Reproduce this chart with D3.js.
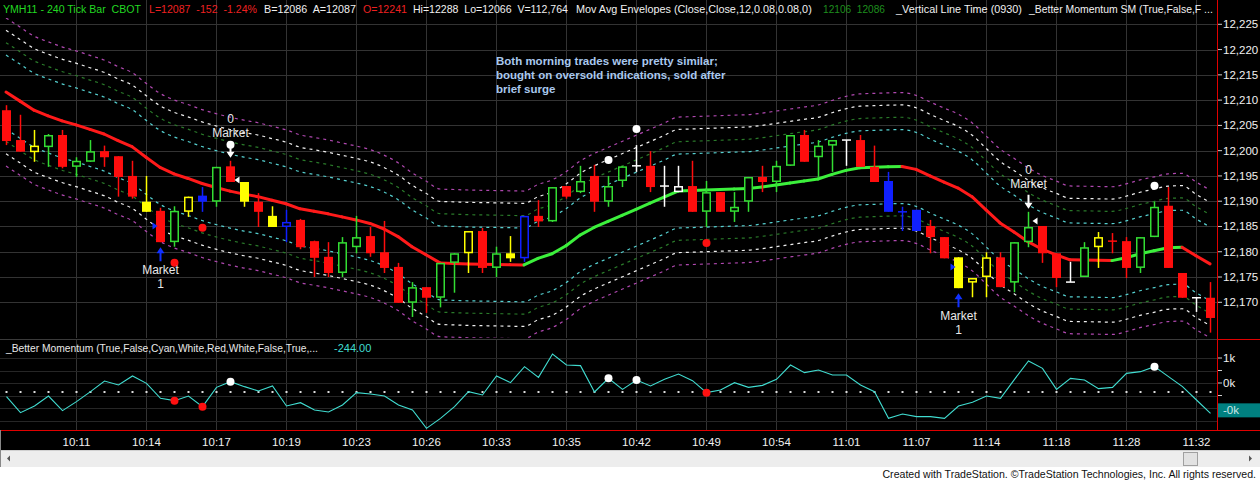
<!DOCTYPE html>
<html><head><meta charset="utf-8">
<script src="https://cdn.jsdelivr.net/npm/d3@7"></script>
<style>
body{margin:0;background:#fff;}
svg{display:block;font-family:Arial,"Liberation Sans",sans-serif;}
text{white-space:pre;}
</style></head>
<body><svg id="c" width="1260" height="482"></svg>
<script>
// ---------------- DATA ----------------
const opens=[12208.0,12202.1,12199.7,12200.7,12203.1,12196.8,12197.8,12199.9,12198.9,12195.0,
12189.9,12188.1,12181.9,12187.9,12191.1,12189.9,12196.9,12193.8,12189.9,12187.1,
12184.9,12186.3,12182.1,12179.0,12175.8,12180.9,12183.1,12179.9,12177.0,12169.9,
12173.0,12170.9,12177.8,12179.7,12184.1,12176.8,12179.7,12178.7,12187.1,12186.0,
12193.0,12191.8,12195.0,12189.9,12194.0,12197.0,12197.0,12193.0,12191.8,12193.0,
12187.9,12191.8,12187.9,12189.9,12194.8,12193.8,12197.0,12203.1,12198.7,12201.0,
12202.1,12202.1,12196.8,12194.0,12187.9,12188.3,12185.1,12182.9,12178.9,12173.9,
12175.0,12178.9,12173.9,12181.9,12185.1,12179.7,12174.0,12175.0,12180.9,12182.1,
12182.1,12176.8,12182.9,12189.1,12175.8,12170.9,12170.9];
const highs=[12209.0,12207.1,12204.1,12203.3,12204.1,12198.7,12202.1,12201.0,12198.9,12198.0,
12195.0,12188.7,12189.0,12190.9,12192.8,12196.8,12198.0,12193.8,12191.6,12189.0,
12188.3,12186.5,12182.2,12181.9,12182.9,12187.1,12184.9,12186.1,12177.8,12174.0,
12173.0,12177.8,12179.7,12184.1,12184.7,12181.0,12183.1,12187.1,12190.2,12192.8,
12193.0,12197.0,12197.2,12195.0,12196.9,12201.1,12199.9,12197.0,12197.0,12198.0,
12194.0,12191.8,12191.8,12194.8,12197.0,12198.0,12203.1,12204.1,12202.1,12202.1,
12202.1,12203.1,12201.0,12195.8,12188.9,12188.3,12186.3,12182.9,12178.9,12174.8,
12179.9,12179.9,12181.9,12187.9,12185.1,12179.7,12178.0,12181.9,12183.9,12183.7,
12182.9,12182.9,12189.9,12192.8,12175.8,12170.9,12174.0];
const lows=[12201.1,12199.8,12197.8,12196.8,12196.5,12194.8,12197.8,12196.8,12190.9,12190.5,
12187.9,12181.9,12181.0,12186.9,12187.9,12188.9,12193.8,12188.9,12184.9,12184.9,
12181.9,12180.5,12175.0,12175.0,12175.0,12179.7,12179.0,12175.8,12169.9,12167.1,
12167.9,12169.0,12171.9,12175.8,12175.8,12175.0,12178.0,12178.0,12184.9,12185.9,
12190.5,12191.6,12187.9,12188.9,12192.8,12195.8,12191.8,12188.9,12191.8,12187.9,
12184.9,12187.9,12185.9,12187.9,12191.8,12191.8,12197.0,12197.8,12194.8,12195.8,
12197.0,12196.8,12193.8,12187.9,12184.1,12184.1,12179.7,12178.7,12172.8,12171.0,
12171.0,12173.0,12172.0,12180.9,12177.8,12173.0,12174.0,12175.0,12176.8,12179.7,
12174.8,12175.8,12182.9,12176.8,12170.9,12168.1,12164.0];
const closes=[12201.9,12199.8,12201.0,12203.1,12196.8,12198.0,12199.9,12198.7,12194.8,12190.9,
12187.9,12181.9,12188.1,12190.9,12189.9,12196.8,12193.8,12189.9,12187.9,12184.9,
12185.9,12180.9,12178.8,12175.8,12181.9,12182.9,12179.7,12176.8,12169.9,12173.0,
12170.9,12177.8,12179.7,12184.1,12176.8,12179.7,12178.7,12187.1,12186.0,12192.8,
12190.9,12194.0,12189.9,12193.0,12196.9,12197.0,12192.8,12193.0,12193.0,12187.9,
12191.8,12187.9,12188.9,12194.8,12193.8,12197.0,12203.1,12197.8,12201.0,12202.1,
12202.1,12196.8,12193.8,12187.9,12187.9,12184.1,12182.9,12178.7,12172.8,12174.8,
12178.9,12173.0,12181.9,12184.9,12179.7,12174.8,12174.0,12180.9,12182.9,12182.1,
12176.8,12182.9,12188.9,12176.8,12170.9,12170.9,12166.9];
// paint-bar state from the Better Momentum SM study (R=down, G=up, Y=caution, B=reversal, W=neutral)
const barStates=("RRYGRGGRRR"+"YRGYBGRYRY"+"BRRRGGRRRG"+"RGGYRGYBRG"+"RGRGGWRWWR"+
                 "GRGGRGGRGG"+"WRRBBBRRYY"+"YRGGRRWGYR"+"RGGRRWR").split("");
const movAvg=[12211.6,12209.8,12208.0,12206.9,12205.9,12205.1,12204.2,12203.3,12202.0,12200.8,
12198.7,12196.7,12195.4,12194.5,12193.5,12192.7,12192.0,12191.4,12190.9,12190.2,
12189.5,12188.5,12188.0,12187.5,12186.9,12186.3,12185.6,12184.5,12183.0,12181.0,
12179.4,12177.8,12177.7,12177.6,12177.55,12177.5,12177.45,12177.4,12178.7,12179.6,
12181.2,12183.3,12184.8,12186.0,12187.2,12188.4,12189.6,12190.8,12192.0,12192.1,
12192.2,12192.3,12192.4,12192.5,12192.8,12193.2,12193.6,12194.0,12194.4,12195.3,
12196.1,12196.6,12196.7,12196.8,12196.85,12196.3,12195.0,12193.8,12192.6,12190.9,
12188.3,12185.7,12183.9,12182.0,12180.5,12179.4,12178.4,12178.35,12178.3,12178.25,
12178.8,12179.6,12180.2,12180.8,12180.9,12179.2,12177.6];
const envelopePcts=[0.0006,0.0008,0.0010,0.0012];
const momentum=[227,-93,40,240,-53,127,327,540,460,640,
493,193,147,240,27,413,527,427,340,440,
40,107,-40,-80,60,307,280,240,60,-40,
-407,-207,27,327,260,640,507,827,613,1080,
860,847,320,593,373,560,440,573,680,547,
307,360,507,413,453,573,860,707,760,660,
660,460,327,-207,-120,-173,-173,-207,40,113,
240,193,573,940,793,373,593,560,387,413,
693,727,827,627,427,160,-107];
const momRefLevel=320;
const sigHighBars=[16,43,45,82];
const sigLowBars=[12,14,50];
const entryBars=[11,68], entryPrices=[12185.1,12177.0];
const exitBars=[16,73], exitPrices=[12194.2,12186.1];
const priceTicks=[12225,12220,12215,12210,12205,12200,12195,12190,12185,12180,12175,12170];
const momTicks=[1000,500], momTickLabels=["1k","0k"], momMinorTicks=[1000,750,500,250];
const timeBars=[5,10,15,20,25,30,35,40,45,50,55,60,65,70,75,80,85];
const timeLabels=["10:11","10:14","10:17","10:19","10:23","10:26","10:33","10:35","10:42",
"10:49","10:54","11:01","11:07","11:14","11:18","11:28","11:32"];
const lastMomText="-244.00", lastMomAxis="-0k";

// ---------------- LAYOUT ----------------
const W=1260,H=482, plotR=1217, pTop=18, pBot=338, mTop=340, mBot=430;
const svg=d3.select("#c");
svg.append("rect").attr("width",W).attr("height",H).attr("fill","#fff");
svg.append("rect").attr("width",W).attr("height",450).attr("fill","#000");

// fit a text's natural width to a target width by scaling its font size (capped)
function fitText(sel,target,base,cap){
  sel.attr("font-size",base);
  const w=sel.node().getComputedTextLength();
  let f=w>0?base*target/w:base;
  if(cap) f=Math.min(f,cap);
  sel.attr("font-size",f.toFixed(2));
  return sel;
}

const x=d3.scaleLinear().domain([0,86]).range([6,6+14*86]);
const y=d3.scaleLinear().domain([12225,12170]).range([24.3,302.3]);
const ym=d3.scaleLinear().domain([1000,500]).range([358,383]);
const stateColor=d3.scaleOrdinal().domain(["R","G","Y","B","W"])
  .range(["#ff0d0d","#33dd33","#ffff00","#1020ff","#ffffff"]);
const bandColors=["#55d0d0","#2a7a2a","#f0f0f0","#b048b0"];
const idx=d3.range(opens.length);

const defs=svg.append("defs");
defs.append("clipPath").attr("id","cp").append("rect").attr("x",0).attr("y",pTop).attr("width",plotR).attr("height",pBot-pTop);
defs.append("clipPath").attr("id","cm").append("rect").attr("x",0).attr("y",mTop).attr("width",plotR).attr("height",mBot-mTop);

// grid
const grid=svg.append("g").attr("stroke","#333").attr("stroke-width",1);
priceTicks.forEach(v=>grid.append("line").attr("x1",0).attr("x2",plotR).attr("y1",Math.round(y(v))+0.5).attr("y2",Math.round(y(v))+0.5));
timeBars.forEach(b=>{
  grid.append("line").attr("x1",x(b)+0.5).attr("x2",x(b)+0.5).attr("y1",0).attr("y2",pBot);
  grid.append("line").attr("x1",x(b)+0.5).attr("x2",x(b)+0.5).attr("y1",mTop).attr("y2",mBot);
});
momMinorTicks.concat([0,-250]).forEach(v=>grid.append("line").attr("stroke","#262626").attr("x1",0).attr("x2",plotR).attr("y1",Math.round(ym(v))+0.5).attr("y2",Math.round(ym(v))+0.5));

// ---------------- PRICE PANEL ----------------
const gp=svg.append("g").attr("clip-path","url(#cp)");
envelopePcts.forEach((p,j)=>{
  [1,-1].forEach(s=>{
    const ln=d3.line().x(i=>x(i)).y(i=>y(movAvg[i]*(1+s*p))).curve(d3.curveMonotoneX);
    gp.append("path").attr("d",ln(idx)).attr("fill","none").attr("stroke",bandColors[j])
      .attr("stroke-width",1.2).attr("stroke-dasharray","3,4");
  });
});
// moving average, coloured by slope
for(let i=1;i<movAvg.length;i++){
  gp.append("line").attr("x1",x(i-1)).attr("y1",y(movAvg[i-1])).attr("x2",x(i)).attr("y2",y(movAvg[i]))
    .attr("stroke",movAvg[i]>movAvg[i-1]?"#3cf03c":"#ff1a1a").attr("stroke-width",3).attr("stroke-linecap","round");
}
// candles
idx.forEach(i=>{
  const c=stateColor(barStates[i]), cx=x(i)+0.5;
  const g=gp.append("g");
  g.append("line").attr("x1",cx).attr("x2",cx).attr("y1",y(highs[i])).attr("y2",y(lows[i])).attr("stroke",c).attr("stroke-width",1.5);
  const o=opens[i], cl=closes[i];
  if(o===cl){
    g.append("line").attr("x1",cx-4.5).attr("x2",cx+4.5).attr("y1",y(o)).attr("y2",y(o)).attr("stroke",c).attr("stroke-width",1.5);
  } else if(cl<o){
    g.append("rect").attr("x",cx-4.5).attr("width",9).attr("y",y(o)).attr("height",Math.max(1.5,y(cl)-y(o))).attr("fill",c);
  } else {
    g.append("rect").attr("x",cx-3.75).attr("width",7.5).attr("y",y(cl)+0.75).attr("height",Math.max(1,y(o)-y(cl)-1.5))
      .attr("fill","#000").attr("stroke",c).attr("stroke-width",1.5);
  }
});
// signal dots
sigHighBars.forEach(b=>gp.append("circle").attr("cx",x(b)+0.5).attr("cy",y(highs[b])-16).attr("r",4).attr("fill","#fff"));
sigLowBars.forEach(b=>gp.append("circle").attr("cx",x(b)+0.5).attr("cy",y(lows[b])+16).attr("r",4).attr("fill","#ff1010"));
// trade markers
const lbl=(t,xx,yy)=>gp.append("text").attr("x",xx).attr("y",yy).attr("text-anchor","middle").attr("font-size",12).attr("fill","#e8e8e8").text(t);
entryBars.forEach((b,j)=>{
  const cx=x(b)+0.5, yl=y(lows[b]), yp=y(entryPrices[j]);
  gp.append("path").attr("d",`M${cx-8},${yp-3.5}L${cx-3},${yp}L${cx-8},${yp+3.5}Z`).attr("fill","#1030ff");
  gp.append("path").attr("d",`M${cx},${yl+5}L${cx-4},${yl+11}L${cx-1},${yl+11}L${cx-1},${yl+19}L${cx+1},${yl+19}L${cx+1},${yl+11}L${cx+4},${yl+11}Z`).attr("fill","#1030ff");
  lbl("Market",cx,yl+32); lbl("1",cx,yl+46);
});
exitBars.forEach((b,j)=>{
  const cx=x(b)+0.5, yh=y(highs[b]), yp=y(exitPrices[j]);
  gp.append("path").attr("d",`M${cx+9},${yp-3.5}L${cx+4},${yp}L${cx+9},${yp+3.5}Z`).attr("fill","#fff");
  gp.append("path").attr("d",`M${cx},${yh-3}L${cx-4},${yh-9}L${cx-1},${yh-9}L${cx-1},${yh-17}L${cx+1},${yh-17}L${cx+1},${yh-9}L${cx+4},${yh-9}Z`).attr("fill","#fff");
  lbl("Market",cx,yh-24); lbl("0",cx,yh-38);
});
// annotation
["Both morning trades were pretty similar;","bought on oversold indications, sold after","brief surge"].forEach((t,j)=>
  svg.append("text").attr("x",496).attr("y",65+14*j).attr("font-size",11.5).attr("font-weight","bold").attr("fill","#a9c8ee").text(t));

// ---------------- MOMENTUM PANEL ----------------
const gm=svg.append("g").attr("clip-path","url(#cm)");
idx.forEach(i=>gm.append("rect").attr("x",x(i)-0.5).attr("y",Math.round(ym(momRefLevel))-1).attr("width",2).attr("height",2).attr("fill","#ddd"));
gm.append("path").attr("d",d3.line().x(i=>x(i)+0.5).y(i=>ym(momentum[i]))(idx)).attr("fill","none").attr("stroke","#40dcd0").attr("stroke-width",1.1);
sigHighBars.forEach(b=>gm.append("circle").attr("cx",x(b)+0.5).attr("cy",ym(momentum[b])).attr("r",4).attr("fill","#fff"));
sigLowBars.forEach(b=>gm.append("circle").attr("cx",x(b)+0.5).attr("cy",ym(momentum[b])).attr("r",4).attr("fill","#ff1010"));
fitText(svg.append("text").attr("x",6).attr("y",352).attr("fill","#e8e8e8")
  .text("_Better Momentum (True,False,Cyan,White,Red,White,False,True,..."),312,11);
svg.append("text").attr("x",334).attr("y",352).attr("font-size",11).attr("fill","#40dcd0").text(lastMomText);

// ---------------- AXES ----------------
svg.append("line").attr("x1",0).attr("x2",plotR).attr("y1",339.5).attr("y2",339.5).attr("stroke","#3a3a3a");
const ax=svg.append("g").attr("font-size",11.5).attr("fill","#f0f0f0");
priceTicks.forEach(v=>{
  const yy=y(v);
  ax.append("line").attr("x1",plotR).attr("x2",plotR+5).attr("y1",yy).attr("y2",yy).attr("stroke","#ccc");
  ax.append("text").attr("x",1223).attr("y",yy+4).text(d3.format(",")(v));
});
momMinorTicks.forEach(v=>ax.append("line").attr("x1",plotR).attr("x2",plotR+5).attr("y1",ym(v)).attr("y2",ym(v)).attr("stroke","#ccc"));
momTicks.forEach((v,j)=>ax.append("text").attr("x",1223).attr("y",ym(v)+4).text(momTickLabels[j]));
const lastY=ym(momentum[momentum.length-1]);
svg.append("rect").attr("x",1218).attr("y",lastY-10).attr("width",42).attr("height",14).attr("fill","#008080");
svg.append("text").attr("x",1223).attr("y",lastY+1).attr("font-size",11.5).attr("fill","#cfe6e6").text(lastMomAxis);
// borders
svg.append("line").attr("x1",plotR+0.5).attr("x2",plotR+0.5).attr("y1",0).attr("y2",mBot).attr("stroke","#e00000");
svg.append("line").attr("x1",plotR).attr("x2",W).attr("y1",339.5).attr("y2",339.5).attr("stroke","#e00000");
svg.append("line").attr("x1",0).attr("x2",W).attr("y1",mBot+0.5).attr("y2",mBot+0.5).attr("stroke","#e00000");
// time axis
timeBars.forEach((b,j)=>ax.append("text").attr("x",x(b)+0.5).attr("y",446).attr("text-anchor","middle").text(timeLabels[j]));

// header
const hdr=[["YMH11 - 240 Tick Bar  CBOT",3,"#22d822",138],["L=12087  -152  -1.24%",149,"#ee2020",108],
["B=12086  A=12087",264,"#f0f0f0",92],["O=12241",363,"#ee2020",44],["Hi=12288  Lo=12066  V=112,764",413,"#f0f0f0",155],
["Mov Avg Envelopes (Close,Close,12,0.08,0.08,0)",576,"#f0f0f0",236],["12106  12086",823,"#1e8f1e",62],
["_Vertical Line Time (0930)",896,"#f0f0f0",126],["_Better Momentum SM (True,False,F ...",1029,"#f0f0f0",184]];
hdr.forEach(h=>fitText(svg.append("text").attr("x",h[1]).attr("y",13).attr("fill",h[2]).text(h[0]),h[3],11.5,12));

// scrollbar + footer
svg.append("rect").attr("x",0).attr("y",450).attr("width",W).attr("height",17).attr("fill","#ededed");
svg.append("line").attr("x1",0).attr("x2",W).attr("y1",450.5).attr("y2",450.5).attr("stroke","#d0d0d0");
svg.append("rect").attr("x",1183.5).attr("y",452.5).attr("width",14).attr("height",13).attr("fill","#e2e2e2").attr("stroke","#a0a0a0");
svg.append("path").attr("d","M7,458.5L10,455.5L10,461.5Z").attr("fill","#555");
svg.append("path").attr("d","M1252,458.5L1249,455.5L1249,461.5Z").attr("fill","#555");
svg.append("line").attr("x1",0.5).attr("x2",0.5).attr("y1",430).attr("y2",467).attr("stroke","#888");
fitText(svg.append("text").attr("x",1256).attr("y",478).attr("text-anchor","end").attr("fill","#111")
  .text("Created with TradeStation. \u00A9TradeStation Technologies, Inc. All rights reserved."),374,11);
</script></body></html>
